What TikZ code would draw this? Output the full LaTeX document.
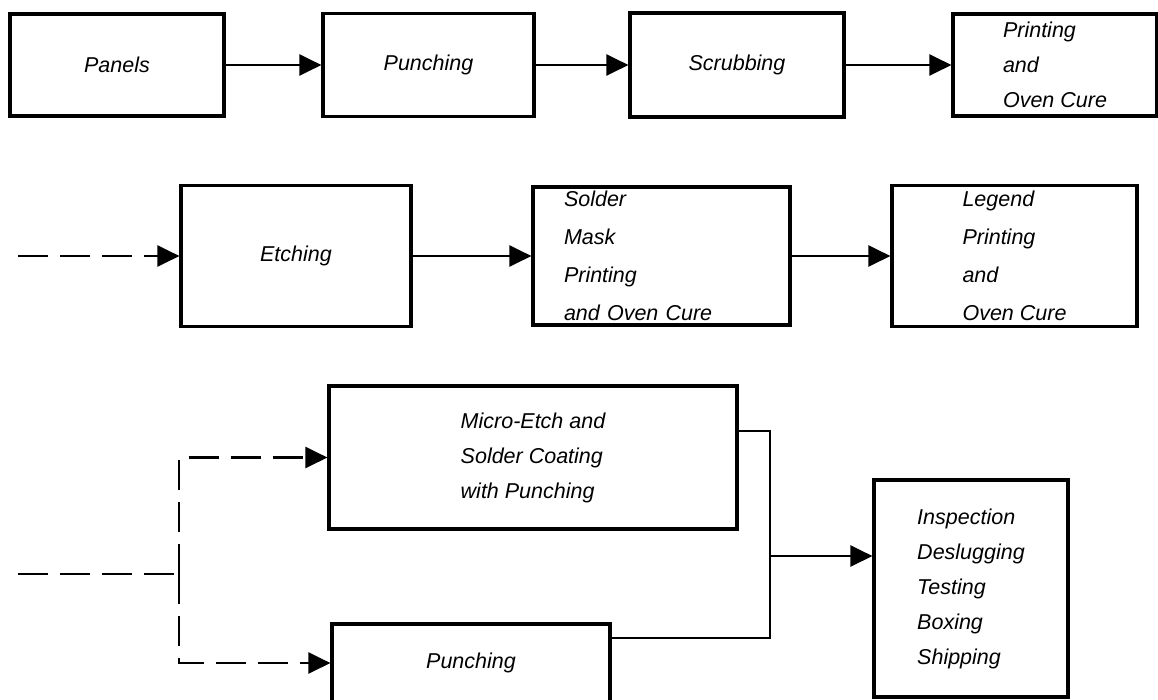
\documentclass[tikz,border=0pt]{standalone}
\usepackage{fontspec}
\setmainfont{Liberation Sans}
\usetikzlibrary{arrows.meta,positioning}
\tikzstyle{block} = [rectangle, draw, line width=3.2pt, inner sep=0pt,
    font=\fontsize{21.5}{35}\selectfont\itshape, align=left]
\tikzstyle{line} = [draw, line width=2.6pt, -{Triangle[length=22pt,width=21pt]}]
\tikzstyle{dline} = [line, dash pattern=on 30pt off 12pt]
\tikzstyle{wire} = [draw, line width=2.6pt]
\begin{document}
\begin{tikzpicture}[x=1pt,y=-1pt]
    \useasboundingbox (0,0) rectangle (1158,699);
    % Place nodes
    \node [block, minimum width=214pt, minimum height=102pt] (panels) at (117,65) {Panels};
    \node [block, right of=panels, node distance=311.5pt, minimum width=211pt, minimum height=103pt] (punchA) {Punching};
    \node [block, right of=punchA, node distance=308.5pt, minimum width=214pt, minimum height=104pt] (scrub) {Scrubbing};
    \node [block, right of=scrub, node distance=318pt, minimum width=204pt, minimum height=102pt] (print) {Printing\\and\\Oven Cure};

    \node [block, minimum width=230pt, minimum height=141pt] (etching) at (296,256) {Etching};
    \node [block, right of=etching, node distance=365.5pt, minimum width=257pt, minimum height=138pt,
        text width=195pt, inner xsep=31pt, font=\fontsize{21.5}{38}\selectfont\itshape] (solder) {Solder\\Mask\\Printing\\and Oven Cure};
    \node [block, right of=solder, node distance=353pt, minimum width=245pt, minimum height=141pt,
        font=\fontsize{21.5}{38}\selectfont\itshape] (legend) {Legend\\Printing\\and\\Oven Cure};

    \node [block, minimum width=408pt, minimum height=143pt] (micro) at (533,457.5) {Micro-Etch and\\Solder Coating\\with Punching};
    \node [block, minimum width=278pt, minimum height=78pt] (punchB) at (471,663) {Punching};
    \node [block, minimum width=194pt, minimum height=217pt] (inspect) at (971,588.5) {Inspection\\Deslugging\\Testing\\Boxing\\Shipping};

    \coordinate (in2) at (18,256);
    \coordinate (in3) at (18,574);
    \coordinate (split) at (179,574);
    \coordinate (merge) at (770,556);

    % Draw edges
    \path [line] (panels) -- (punchA);
    \path [line] (punchA) -- (scrub);
    \path [line] (scrub) -- (print);

    \path [dline] (in2) -- (etching);
    \path [line] (etching) -- (solder);
    \path [line] (solder) -- (legend);

    \path [wire, dash pattern=on 30pt off 12pt] (in3) -- (split);
    \path [dline] (split) |- (micro);
    \path [dline] (split) |- (punchB);
    \path [wire] ([yshift=26.5pt]micro.east) -| (merge);
    \path [wire] ([yshift=25pt]punchB.east) -| (merge);
    \path [line] (merge) -- (merge -| inspect.west);
\end{tikzpicture}
\end{document}
